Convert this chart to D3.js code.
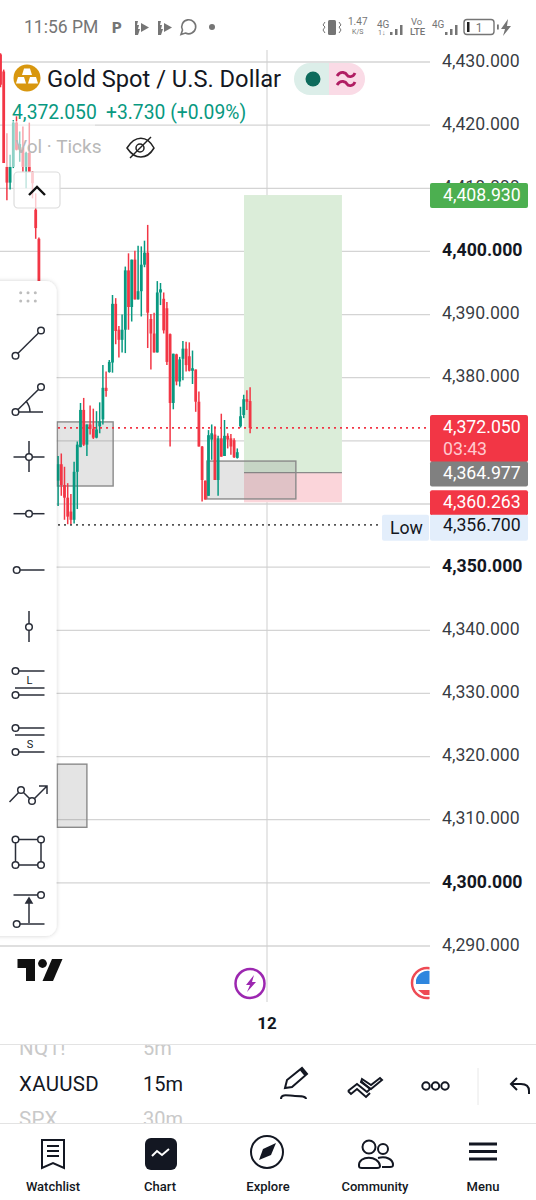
<!DOCTYPE html>
<html>
<head>
<meta charset="utf-8">
<script src="https://cdn.jsdelivr.net/npm/d3@7"></script>
<style>
  html, body { margin: 0; padding: 0; background: #fff; }
  svg { display: block; font-family: Roboto, sans-serif; }
</style>
</head>
<body>
<div id="chart"></div>
<script>
// candles, one slot per bar (null = hidden behind the tool panel)
const opens = [4431.2,4428.5,4413.4,4410.9,4413.4,4420.4,4416.1,4416.5,4413.4,4415.6,4412.6,4406.6,4402,null,null,null,null,null,
  4363.7,4366.3,4363,4361,4358.8,4357.5,4365.1,4369,4374.9,4369.4,4372.6,4371.9,4370.5,4372.3,4373.4,4378.4,4380.9,4382.4,4391.7,4387.6,4386,4387.6,4397,4391.2,4398.7,4392.4,4393.7,4397.9,4399.8,4389.3,4387,4384,4393.5,4392.5,4391,
  4386.9,4376,4383.7,4379.4,4383,4384.6,4383.4,4381.1,4381.3,4376.2,4369.1,4363.7,4361.3,4370.2,4371,4363.8,4370.4,4367.6,4370.8,4370.4,4370.1,4367.3,4372.3,4374.1,4376.6,4376.3];
const highs = [4431.4,4428.8,4418.7,4415.3,4420.8,4421.4,4419,4419.8,4415.8,4420.4,4412.7,4409.2,4402.2,null,null,null,null,null,
  4367.6,4368,4365.9,4363.3,4361.6,4366.7,4369.9,4376,4376.8,4372.6,4375.6,4375.1,4374.7,4376.1,4382,4381,4382.8,4393.1,4392.6,4388.2,4390,4397.6,4399.7,4398.7,4400.1,4400.9,4400.8,4401.7,4404.2,4390.1,4390.3,4395.3,4395,4393.5,4392,
  4387,4383.8,4383.8,4383.3,4385.8,4385.7,4385.6,4384.3,4381.3,4377.8,4369.2,4363.7,4371.7,4372.6,4372.3,4370.8,4374.3,4373.3,4371.2,4371.1,4370.4,4368.8,4375.4,4377.3,4378,4378.5];
const lows = [4426,4414,4408.1,4409.8,4413.2,4416,4414.2,4412.6,4410,4412.6,4408.4,4402,4385,null,null,null,null,null,
  4359.7,4361.3,4357.5,4356.8,4356.8,4356.9,4359.2,4369,4369.2,4367.6,4371,4370.3,4370.4,4371.2,4372.6,4377,4380.8,4380.8,4385.3,4383.2,4384,4383.9,4387.6,4388.9,4392.4,4392.4,4389.7,4397.5,4384.7,4381.3,4384,4384,4391.5,4387,4382,
  4369.1,4375,4378.8,4378.6,4379.6,4381,4381,4379,4374.6,4369.1,4360.4,4360.7,4361.3,4367,4363.8,4361.3,4367.5,4367.6,4368.8,4367.8,4367.3,4367.2,4372.1,4373.6,4374.9,4371.2];
const closes = [4426.4,4414,4410.9,4413.4,4420.4,4416.1,4417,4413.4,4415.6,4412.6,4410.8,4403.7,4388,null,null,null,null,null,
  4366.3,4363,4361,4358,4357.5,4365.1,4369.4,4374.9,4369.4,4372.6,4371.9,4370.5,4371.8,4373.1,4378.4,4377.9,4382.5,4391.7,4387.4,4386,4387.6,4397,4391.2,4398.7,4392.4,4393.7,4397.9,4399.8,4390.3,4387,4384,4393.5,4394,4387.5,4382.5,
  4376,4383.8,4379.4,4382.9,4384.6,4382,4381.1,4381.5,4376.2,4369.1,4363.8,4360.7,4370.9,4371.2,4363.8,4370.4,4367.5,4370.8,4370.2,4369.1,4367.4,4368.2,4373.9,4376.6,4376.2,4372.05];

const priceTicks = [4430,4420,4410,4400,4390,4380,4370,4360,4350,4340,4330,4320,4310,4300,4290];
const boldTicks = [4400,4350,4300];
const coveredTicks = [4370,4360]; // labels sit fully under the price tags

// [first bar, last bar, top price, bottom price]
const grayBoxes = [[17.7,35.2,4373,4362.85],[64.5,92.3,4366.8,4360.8],[17.7,27,4318.8,4308.8]];
const positionBars = [76.1,106.7];
const takeProfit = 4408.93, entry = 4364.977, stopLoss = 4360.263, lastPrice = 4372.05, lowPrice = 4356.7;

const W = 536, H = 1200;
const C_UP = "#089981", C_DOWN = "#F23645", INK = "#131722";

const x = d3.scaleLinear().domain([0, 78]).range([0.5, 250.1]);
const y = d3.scaleLinear().domain([4430, 4290]).range([62, 946]);

const svg = d3.select("#chart").append("svg").attr("width", W).attr("height", H);
svg.append("rect").attr("width", W).attr("height", H).attr("fill", "#fff");

// ----- chart pane -----
const pane = svg.append("g");

pane.selectAll("line.grid").data(priceTicks).enter().append("line")
  .attr("class", "grid")
  .attr("x1", 0).attr("x2", 430)
  .attr("y1", d => y(d)).attr("y2", d => y(d))
  .attr("stroke", "#d4d4d4").attr("stroke-width", 1.3);

pane.append("line").attr("x1", 267).attr("x2", 267).attr("y1", 50).attr("y2", 1002)
  .attr("stroke", "#cfcfcf").attr("stroke-width", 1);

// long position tool
pane.append("rect").attr("x", x(positionBars[0])).attr("width", x(positionBars[1]) - x(positionBars[0]))
  .attr("y", y(takeProfit)).attr("height", y(entry) - y(takeProfit)).attr("fill", "#dbedd9");
pane.append("rect").attr("x", x(positionBars[0])).attr("width", x(positionBars[1]) - x(positionBars[0]))
  .attr("y", y(entry)).attr("height", y(stopLoss) - y(entry)).attr("fill", "#fbd5da");
pane.append("line").attr("x1", x(positionBars[0])).attr("x2", x(positionBars[1]))
  .attr("y1", y(entry)).attr("y2", y(entry)).attr("stroke", "#8a8a8a").attr("stroke-width", 1.3);

pane.selectAll("rect.zone").data(grayBoxes).enter().append("rect")
  .attr("class", "zone")
  .attr("x", d => x(d[0])).attr("width", d => x(d[1]) - x(d[0]))
  .attr("y", d => y(d[2])).attr("height", d => y(d[3]) - y(d[2]))
  .attr("fill", "rgba(110,110,110,0.19)").attr("stroke", "#8a8a8a").attr("stroke-width", 1.4);

// candles
const bars = d3.range(opens.length).filter(i => opens[i] !== null);
const colorOf = i => closes[i] >= opens[i] ? C_UP : C_DOWN;

pane.selectAll("line.wick").data(bars).enter().append("line")
  .attr("class", "wick")
  .attr("x1", i => x(i)).attr("x2", i => x(i))
  .attr("y1", i => y(highs[i])).attr("y2", i => y(lows[i]))
  .attr("stroke", colorOf).attr("stroke-width", 1.5);

pane.selectAll("rect.body").data(bars).enter().append("rect")
  .attr("class", "body")
  .attr("x", i => x(i) - 1.4).attr("width", 2.8)
  .attr("y", i => y(Math.max(opens[i], closes[i])))
  .attr("height", i => Math.max(1, Math.abs(y(opens[i]) - y(closes[i]))))
  .attr("fill", colorOf);

// last price and session low
pane.append("line").attr("x1", 58).attr("x2", 430).attr("y1", y(lastPrice)).attr("y2", y(lastPrice))
  .attr("stroke", C_DOWN).attr("stroke-width", 1.6).attr("stroke-dasharray", "2 4");
pane.append("line").attr("x1", 58).attr("x2", 382).attr("y1", y(lowPrice)).attr("y2", y(lowPrice))
  .attr("stroke", "#555").attr("stroke-width", 1.6).attr("stroke-dasharray", "2 4");

// legend veil over the candles
pane.append("rect").attr("x", 5).attr("y", 121).attr("width", 90).attr("height", 46)
  .attr("fill", "rgba(255,255,255,0.55)");

// ----- price axis -----
const axis = svg.append("g").attr("transform", "translate(442,0)")
  .call(d3.axisRight(y).tickValues(priceTicks.filter(d => !coveredTicks.includes(d)))
    .tickSize(0).tickPadding(0).tickFormat(d3.format(",.3f")));
axis.select(".domain").remove();
axis.selectAll("text")
  .attr("fill", INK).attr("font-family", "Roboto, sans-serif").attr("font-size", 17.7)
  .attr("font-weight", d => boldTicks.includes(d) ? 700 : 400)
  .attr("fill-opacity", d => boldTicks.includes(d) ? 1 : 0.86)
  .attr("dy", "0.24em");

function priceTag(top, height, bg) {
  svg.append("rect").attr("x", 430).attr("y", top).attr("width", 98).attr("height", height)
    .attr("rx", 2).attr("fill", bg);
}
function tagText(label, base, color, xx) {
  svg.append("text").attr("x", xx || 443).attr("y", base).attr("font-size", 17.7).attr("fill", color).text(label);
}
const fmt = d3.format(",.3f");
priceTag(y(takeProfit) - 12, 25, "#4CAF50");
tagText(fmt(takeProfit), y(takeProfit) + 6, "#fff");
priceTag(y(lastPrice) - 13, 47, C_DOWN);
tagText(fmt(lastPrice), y(lastPrice) + 5, "#fff");
tagText("03:43", y(lastPrice) + 27, "#ffc9cf");
priceTag(y(entry) - 11, 25, "#808080");
tagText(fmt(entry), y(entry) + 6.5, "#fff");
priceTag(y(stopLoss) - 12, 25, C_DOWN);
tagText(fmt(stopLoss), y(stopLoss) + 6, "#fff");
priceTag(y(lowPrice) - 10, 26, "#e3eefb");
tagText(fmt(lowPrice), y(lowPrice) + 6, INK);
svg.append("rect").attr("x", 382).attr("y", y(lowPrice) - 10).attr("width", 47).attr("height", 26).attr("rx", 2).attr("fill", "#e3eefb");
tagText("Low", y(lowPrice) + 9, INK, 390);

// ----- legend -----
svg.append("circle").attr("cx", 27).attr("cy", 78).attr("r", 13.5).attr("fill", "#d8970f");
[[27, 71.5], [21, 80], [33, 80]].forEach(p => {
  svg.append("path").attr("d", `M${p[0]-5},${p[1]+3.5}L${p[0]-3},${p[1]-3}H${p[0]+3}L${p[0]+5},${p[1]+3.5}Z`).attr("fill", "#fff");
});
svg.append("text").attr("x", 47).attr("y", 87).attr("font-size", 23.7).attr("fill", INK).text("Gold Spot / U.S. Dollar");
svg.append("path").attr("d", "M330,63H310a16,16 0 0 0 0,32H330Z").attr("fill", "#dceee9");
svg.append("path").attr("d", "M329,63H349a16,16 0 0 1 0,32H329Z").attr("fill", "#fadbe6");
svg.append("circle").attr("cx", 313).attr("cy", 79).attr("r", 7.5).attr("fill", "#0d6b5c");
[74, 83].forEach(v => {
  svg.append("path").attr("d", `M337,${v+2}c4,-6 9,-3 10,-1s6,3 8,-2`).attr("fill", "none").attr("stroke", "#b01e63").attr("stroke-width", 2.8);
});
svg.append("text").attr("x", 12).attr("y", 119).attr("font-size", 19.3).attr("fill", C_UP).text("4,372.050");
svg.append("text").attr("x", 106).attr("y", 119).attr("font-size", 19.3).attr("fill", C_UP).text("+3.730 (+0.09%)");
svg.append("text").attr("x", 15).attr("y", 153).attr("font-size", 19).attr("fill", "#b8b8b8").text("Vol · Ticks");
// eye struck through
const eye = svg.append("g").attr("fill", "none").attr("stroke", "#222").attr("stroke-width", 1.5);
eye.append("path").attr("d", "M127,148c8,-13 20,-13 27,0c-7,12 -19,12 -27,0Z");
eye.append("circle").attr("cx", 140).attr("cy", 148).attr("r", 4);
eye.append("line").attr("x1", 130).attr("y1", 158).attr("x2", 151).attr("y2", 137);

// collapse button
svg.append("rect").attr("x", 14).attr("y", 172).attr("width", 46).attr("height", 36).attr("rx", 4)
  .attr("fill", "rgba(255,255,255,0.75)").attr("stroke", "#dcdcdc").attr("stroke-width", 1.2);
svg.append("path").attr("d", "M29,195l8,-8l8,8").attr("fill", "none").attr("stroke", "#111").attr("stroke-width", 2.4);

// ----- drawing tools panel -----
svg.append("defs").append("filter").attr("id", "soft").attr("x", "-30%").attr("width", "160%").attr("y", "-5%").attr("height", "110%")
  .append("feDropShadow").attr("dx", 0).attr("dy", 0).attr("stdDeviation", 2).attr("flood-color", "#000").attr("flood-opacity", 0.18);
svg.append("rect").attr("x", -14).attr("y", 281).attr("width", 70.5).attr("height", 655).attr("rx", 11)
  .attr("fill", "#fff").attr("filter", "url(#soft)");

[[20.7, 292.7], [28, 292.7], [35.3, 292.7], [20.7, 301], [28, 301], [35.3, 301]].forEach(p => {
  svg.append("circle").attr("cx", p[0]).attr("cy", p[1]).attr("r", 1.5).attr("fill", "#bdbdbd");
});
const tools = svg.append("g").attr("fill", "none").attr("stroke", "#2a2e39").attr("stroke-width", 1.5);
const seg = (a, b, c, d) => tools.append("path").attr("d", `M${a},${b}L${c},${d}`);
const dot = (a, b) => tools.append("circle").attr("cx", a).attr("cy", b).attr("r", 3.3).attr("fill", "#fff");
// trend line
seg(15.5, 355.7, 41, 330.5); dot(15.5, 355.7); dot(41, 330.5);
// trend angle
seg(15.5, 412, 41, 387); seg(15.5, 412, 43, 412);
tools.append("path").attr("d", "M26,401q4,5 4,11");
dot(15.5, 412); dot(41, 387);
// crosshair
seg(13.5, 457, 44.5, 457); seg(29, 441, 29, 472); dot(29, 457);
// horizontal line and ray, vertical line
seg(13.5, 513.7, 44.5, 513.7); dot(29, 513.7);
seg(16.7, 570, 44.5, 570); dot(16.7, 570);
seg(29, 611, 29, 642); dot(29, 627);
// long position
seg(15.5, 671, 44.5, 671); seg(15, 688, 44.5, 688); seg(15.5, 695, 44.5, 695); dot(15.5, 671); dot(15.5, 695);
// short position
seg(15.5, 728, 44.5, 728); seg(15, 735, 44.5, 735); seg(15.5, 752, 44.5, 752); dot(15.5, 728); dot(15.5, 752);
svg.append("text").attr("x", 29.5).attr("y", 684).attr("text-anchor", "middle").attr("font-size", 11).attr("fill", INK).text("L");
svg.append("text").attr("x", 30).attr("y", 748).attr("text-anchor", "middle").attr("font-size", 11).attr("fill", INK).text("S");
// path
tools.append("path").attr("d", "M9.5,802L21,790L32,801L47,786M39,786H47V794");
dot(21, 790); dot(32, 801);
// rectangle
tools.append("rect").attr("x", 15.5).attr("y", 839.5).attr("width", 25.5).attr("height", 25.5);
dot(15.5, 839.5); dot(41, 839.5); dot(15.5, 865); dot(41, 865);
// price range
seg(13.5, 895, 41, 895); seg(16.7, 924, 44.5, 924); seg(29, 923, 29, 900);
tools.append("path").attr("d", "M26,903L29,898L32,903Z").attr("fill", "#2a2e39");
dot(41, 895); dot(16.7, 924);

// ----- status bar -----
const grayIcon = "#757575";
svg.append("text").attr("x", 24).attr("y", 33).attr("font-size", 17.5).attr("fill", grayIcon).text("11:56 PM");
svg.append("text").attr("x", 112).attr("y", 33).attr("font-size", 15).attr("font-weight", 900).attr("fill", grayIcon).text("P");
[135, 158].forEach(a => {
  svg.append("path").attr("d", `M${a},21h3l-1,4h2l-1,4h2l-2,6h-3z`).attr("fill", grayIcon);
  svg.append("path").attr("d", `M${a+6},23l8,4.5l-8,4.5z`).attr("fill", grayIcon);
});
svg.append("path").attr("d", "M181,34.5l1.5,-4.5a7,7 0 1 1 3,3z").attr("fill", "none").attr("stroke", grayIcon).attr("stroke-width", 1.6);
svg.append("circle").attr("cx", 212).attr("cy", 27).attr("r", 3).attr("fill", grayIcon);
svg.append("rect").attr("x", 328).attr("y", 20).attr("width", 8).attr("height", 15).attr("rx", 1.5).attr("fill", grayIcon);
svg.append("path").attr("d", "M325,22l-2,3l2,2l-2,3l2,3M339,22l2,3l-2,2l2,3l-2,3").attr("fill", "none").attr("stroke", grayIcon).attr("stroke-width", 1);
svg.append("text").attr("x", 348).attr("y", 25).attr("font-size", 10).attr("fill", grayIcon).text("1.47");
svg.append("text").attr("x", 352).attr("y", 33.5).attr("font-size", 7).attr("fill", grayIcon).text("K/S");
svg.append("text").attr("x", 377).attr("y", 28).attr("font-size", 10).attr("fill", grayIcon).text("4G");
svg.append("text").attr("x", 378).attr("y", 35).attr("font-size", 7).attr("fill", grayIcon).text("1↓");
svg.append("text").attr("x", 411).attr("y", 25).attr("font-size", 9.5).attr("fill", grayIcon).text("Vo");
svg.append("text").attr("x", 410).attr("y", 35).attr("font-size", 9.5).attr("font-weight", 500).attr("fill", grayIcon).text("LTE");
svg.append("text").attr("x", 432).attr("y", 28).attr("font-size", 10).attr("fill", grayIcon).text("4G");
[[390, 32, 3], [395, 29, 6], [400, 25, 10], [445, 32, 3], [450, 29, 6], [455, 25, 10]].forEach(b => {
  svg.append("rect").attr("x", b[0]).attr("y", b[1]).attr("width", 2.5).attr("height", b[2]).attr("fill", grayIcon);
});
svg.append("rect").attr("x", 464).attr("y", 19.5).attr("width", 30).attr("height", 15).attr("rx", 3).attr("fill", "none").attr("stroke", grayIcon).attr("stroke-width", 1.4);
svg.append("rect").attr("x", 467).attr("y", 22).attr("width", 2.5).attr("height", 10).attr("fill", "#222");
svg.append("text").attr("x", 479).attr("y", 32).attr("text-anchor", "middle").attr("font-size", 12).attr("fill", grayIcon).text("1");
svg.append("rect").attr("x", 497).attr("y", 24.5).attr("width", 1.8).attr("height", 5).attr("fill", grayIcon);
svg.append("path").attr("d", "M508,19l-7,10h4l-2,7l8,-10h-4z").attr("fill", grayIcon);

// ----- bottom of pane -----
svg.append("path").attr("d", "M17.5,959H35V981H26V968H17.5Z").attr("fill", "#111");
svg.append("circle").attr("cx", 42.5).attr("cy", 963.5).attr("r", 4.4).attr("fill", "#111");
svg.append("path").attr("d", "M52,959H62.5L53,981H42.5Z").attr("fill", "#111");

svg.append("circle").attr("cx", 250).attr("cy", 983.5).attr("r", 14.5).attr("fill", "#fff").attr("stroke", "#9c27b0").attr("stroke-width", 2.5);
svg.append("path").attr("d", "M254,975l-8,10h4l-3,7l9,-10h-4z").attr("fill", "#9c27b0");

// flag event, cut by the price scale
const flagClip = svg.append("clipPath").attr("id", "flagClip");
flagClip.append("rect").attr("x", 405).attr("y", 960).attr("width", 24.5).attr("height", 50);
const flag = svg.append("g").attr("clip-path", "url(#flagClip)");
flag.append("circle").attr("cx", 427).attr("cy", 983).attr("r", 15).attr("fill", "#fff").attr("stroke", "#ee4a54").attr("stroke-width", 2.5);
flag.append("path").attr("d", "M416,980a12,12 0 0 1 14,-9V984H416Z").attr("fill", "#2e86de");
flag.append("path").attr("d", "M418,990H431V995H424Z").attr("fill", "#ee4a54");

svg.append("text").attr("x", 267).attr("y", 1029).attr("text-anchor", "middle").attr("font-size", 17).attr("font-weight", 700).attr("fill", INK).text("12");

// ----- toolbar -----
svg.append("line").attr("x1", 0).attr("x2", W).attr("y1", 1044.5).attr("y2", 1044.5).attr("stroke", "#e3e3e3");
svg.append("line").attr("x1", 0).attr("x2", W).attr("y1", 1123.5).attr("y2", 1123.5).attr("stroke", "#e3e3e3");

const stripClip = svg.append("clipPath").attr("id", "stripClip");
stripClip.append("rect").attr("x", 0).attr("y", 1045).attr("width", W).attr("height", 78);
const strip = svg.append("g").attr("clip-path", "url(#stripClip)");
[["NQ1!", "5m", 1055, "#c9c9c9"], ["XAUUSD", "15m", 1091, INK], ["SPX", "30m", 1126, "#c9c9c9"]].forEach(r => {
  strip.append("text").attr("x", 19).attr("y", r[2]).attr("font-size", 20.5).attr("fill", r[3]).attr("letter-spacing", 0.3).text(r[0]);
  strip.append("text").attr("x", 143).attr("y", r[2]).attr("font-size", 20).attr("fill", r[3]).text(r[1]);
});

const tb = svg.append("g").attr("fill", "none").attr("stroke", "#131722").attr("stroke-width", 2);
// pencil with scribble
tb.append("path").attr("d", "M285,1088l2,-8l15,-12l5,6l-15,13z M301,1070l5,6");
tb.append("path").attr("d", "M281,1099c0,-6 8,-3 14,-3s11,0 11,3");
// magnet style chevrons
tb.append("path").attr("d", "M348,1091l9,-7l10,8l3,-3l-9,-8M348,1091l3,3l6,-5l9,8l4,-4");
tb.append("path").attr("d", "M362,1079l9,6l9,-7l2,2l-11,9l-10,-7z");
[426, 435.5, 445].forEach(a => tb.append("circle").attr("cx", a).attr("cy", 1086).attr("r", 3.7));
svg.append("line").attr("x1", 478).attr("x2", 478).attr("y1", 1068).attr("y2", 1105).attr("stroke", "#e8e8e8");
tb.append("path").attr("d", "M529,1094v-3c0,-6 -4,-7 -8,-7h-10M517,1078l-6,6l6,6");

// ----- tab bar -----
const tabs = ["Watchlist", "Chart", "Explore", "Community", "Menu"];
const tabCentres = [53, 160, 268, 375, 483];
svg.selectAll("text.tab").data(tabs).enter().append("text")
  .attr("class", "tab")
  .attr("x", (d, i) => tabCentres[i]).attr("y", 1191)
  .attr("text-anchor", "middle").attr("font-size", 13).attr("font-weight", 500).attr("fill", INK)
  .text(d => d);

const nav = svg.append("g").attr("fill", "none").attr("stroke", "#131722").attr("stroke-width", 2);
nav.append("path").attr("d", "M42,1140H64V1168L53,1163L42,1168Z");
[1146, 1151, 1156].forEach(v => nav.append("line").attr("x1", 47).attr("x2", 59).attr("y1", v).attr("y2", v));
svg.append("rect").attr("x", 145).attr("y", 1138).attr("width", 32).attr("height", 32).attr("rx", 6).attr("fill", "#131722");
svg.append("path").attr("d", "M152,1156l5,-5l5,4l7,-6").attr("fill", "none").attr("stroke", "#fff").attr("stroke-width", 2);
nav.append("circle").attr("cx", 267).attr("cy", 1152).attr("r", 16);
svg.append("path").attr("d", "M259,1160l4,-11l13,-6l-5,12z").attr("fill", "#131722");
nav.append("circle").attr("cx", 369).attr("cy", 1147).attr("r", 6.5);
nav.append("circle").attr("cx", 383).attr("cy", 1149).attr("r", 5);
nav.append("path").attr("d", "M359,1166c-1,-11 20,-11 21,0c0,2 -1,2 -3,2h-15c-2,0 -3,0 -3,-2z");
nav.append("path").attr("d", "M378,1158c8,-2 15,1 15,7c0,2 -1,2 -3,2h-8");
[1144, 1151.5, 1159].forEach(v => svg.append("line").attr("x1", 469).attr("x2", 497).attr("y1", v).attr("y2", v).attr("stroke", "#131722").attr("stroke-width", 3));
</script>
</body>
</html>
